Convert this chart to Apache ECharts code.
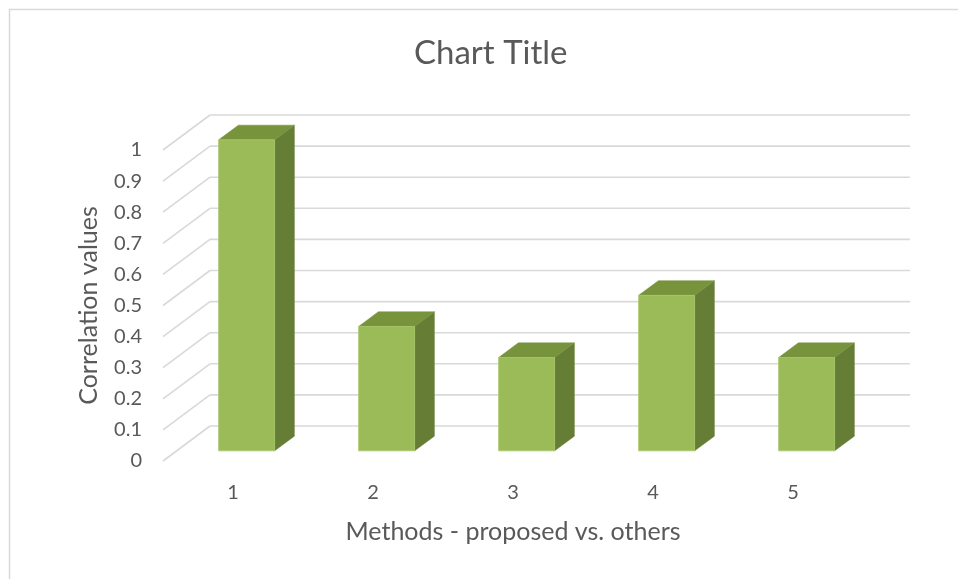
<!DOCTYPE html>
<html>
<head>
<meta charset="utf-8">
<title>Chart Title</title>
<script src="https://cdn.jsdelivr.net/npm/echarts@6/dist/echarts.min.js"></script>
<style>
  html, body { margin: 0; padding: 0; background: #ffffff; }
  #chart { width: 958px; height: 579px; }
</style>
</head>
<body>
<div id="chart"></div>
<script>
// Categories, values and tick labels
const categories = ['1', '2', '3', '4', '5'];
const correlationValues = [1, 0.4, 0.3, 0.5, 0.3];
const yTicks = [0, 0.1, 0.2, 0.3, 0.4, 0.5, 0.6, 0.7, 0.8, 0.9, 1];

// Pseudo-3D depth: offset of the back wall from the front plane (px)
const DEPTH_X = 47;
const DEPTH_Y = -35;
// Bars sit between these fractions of the floor depth
const BAR_FRONT = 0.29;
const BAR_BACK = 0.71;
const BAR_WIDTH_RATIO = 0.4;

const FONT = 'Lato, "Open Sans", sans-serif';
const TEXT_COLOR = '#595959';
const GRID_COLOR = '#d9d9d9';

const chart = echarts.init(document.getElementById('chart'), null, { renderer: 'canvas' });

function renderWall(params, api) {
  const cs = params.coordSys;
  const v = api.value(0);
  const y = api.coord([0, v])[1];
  const x0 = cs.x;
  const x1 = cs.x + cs.width;
  const style = { stroke: GRID_COLOR, lineWidth: 1.6, fill: null };
  return {
    type: 'group',
    children: [
      { type: 'line', shape: { x1: x0, y1: y, x2: x0 + DEPTH_X, y2: y + DEPTH_Y }, style: style },
      { type: 'line', shape: { x1: x0 + DEPTH_X, y1: y + DEPTH_Y, x2: x1 + DEPTH_X, y2: y + DEPTH_Y }, style: style }
    ]
  };
}

function renderBar(params, api) {
  const idx = api.value(0);
  const val = api.value(1);
  const base = api.coord([idx, 0]);
  const top = api.coord([idx, val]);
  const half = api.size([1, 0])[0] * BAR_WIDTH_RATIO / 2;
  const fx = DEPTH_X * BAR_FRONT, fy = DEPTH_Y * BAR_FRONT;
  const bx = DEPTH_X * BAR_BACK, by = DEPTH_Y * BAR_BACK;
  const l = base[0] - half, r = base[0] + half;
  const yb = base[1], yt = top[1];
  const front = [[l + fx, yt + fy], [r + fx, yt + fy], [r + fx, yb + fy], [l + fx, yb + fy]];
  const side = [[r + fx, yt + fy], [r + bx, yt + by], [r + bx, yb + by], [r + fx, yb + fy]];
  const topFace = [[l + fx, yt + fy], [l + bx, yt + by], [r + bx, yt + by], [r + fx, yt + fy]];
  return {
    type: 'group',
    children: [
      { type: 'polygon', shape: { points: side }, style: { fill: '#667d36', stroke: '#667d36', lineWidth: 0.5 } },
      { type: 'polygon', shape: { points: topFace }, style: { fill: '#77933c', stroke: '#77933c', lineWidth: 0.5 } },
      { type: 'polygon', shape: { points: front }, style: { fill: '#9bbb59', stroke: '#a9c76a', lineWidth: 0.8 } }
    ]
  };
}

const option = {
  backgroundColor: '#ffffff',
  animation: false,
  title: {
    text: 'Chart Title',
    left: 409,
    top: 32,
    textStyle: { fontFamily: FONT, fontSize: 33, fontWeight: 'normal', color: TEXT_COLOR }
  },
  graphic: [
    {
      type: 'rect',
      shape: { x: 9.5, y: 9.5, width: 980, height: 600 },
      style: { fill: null, stroke: GRID_COLOR, lineWidth: 1.5 },
      silent: true,
      z: -10
    }
  ],
  grid: { left: 163, right: 95, top: 150, bottom: 118 },
  xAxis: {
    type: 'category',
    data: categories,
    axisLine: { show: false },
    axisTick: { show: false },
    axisLabel: { color: TEXT_COLOR, fontFamily: FONT, fontSize: 20, margin: 22 },
    name: 'Methods - proposed vs. others',
    nameLocation: 'middle',
    nameGap: 58,
    nameTextStyle: { color: TEXT_COLOR, fontFamily: FONT, fontSize: 25 }
  },
  yAxis: {
    type: 'value',
    min: 0,
    max: 1,
    interval: 0.1,
    axisLine: { show: false },
    axisTick: { show: false },
    splitLine: { show: false },
    axisLabel: { color: TEXT_COLOR, fontFamily: FONT, fontSize: 20, margin: 21 },
    name: 'Correlation values',
    nameLocation: 'middle',
    nameRotate: 90,
    nameGap: 62,
    nameTextStyle: { color: TEXT_COLOR, fontFamily: FONT, fontSize: 25 }
  },
  series: [
    {
      name: 'wall',
      type: 'custom',
      renderItem: renderWall,
      data: yTicks.map(v => [v]),
      encode: { y: 0 },
      clip: false,
      silent: true,
      z: 1
    },
    {
      name: 'Correlation values',
      type: 'custom',
      renderItem: renderBar,
      data: correlationValues.map((v, i) => [i, v]),
      encode: { x: 0, y: 1 },
      clip: false,
      z: 2
    }
  ]
};

chart.setOption(option);
</script>
</body>
</html>
